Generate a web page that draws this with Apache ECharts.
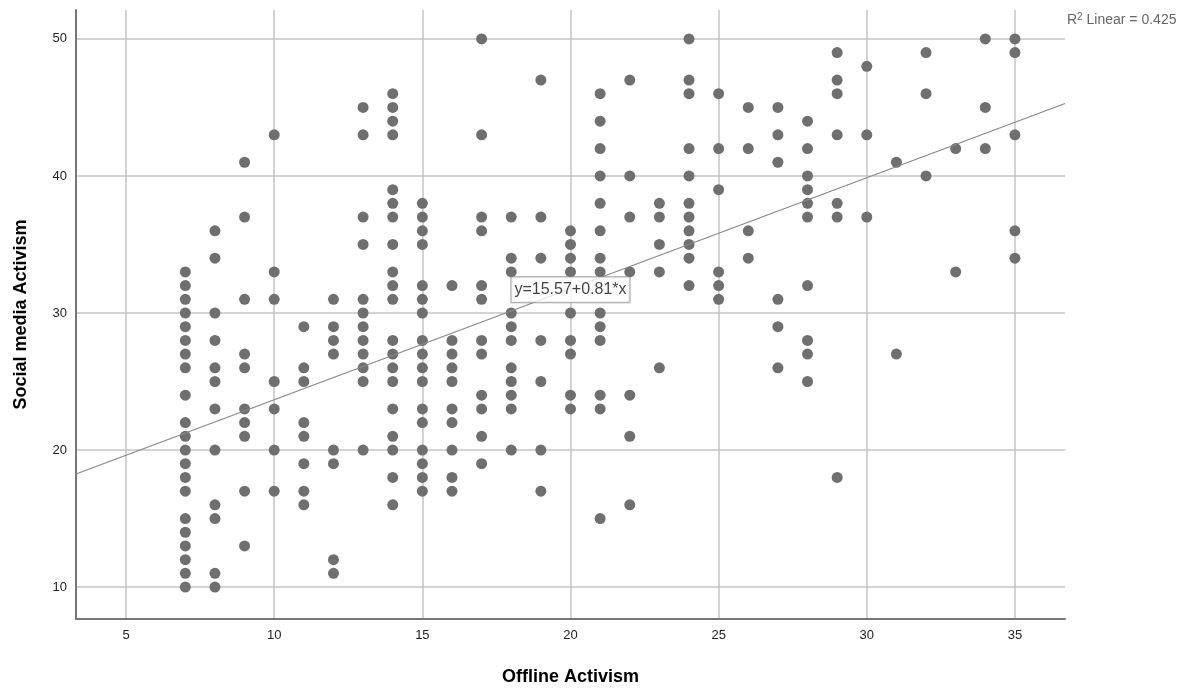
<!DOCTYPE html>
<html lang="en">

<head>
    <meta charset="UTF-8">
    <title>Offline vs Social media Activism</title>
    <style>
        html, body { margin: 0; padding: 0; background: #fff; }
        #main { width: 1195px; height: 691px; }
    </style>
</head>

<body>
    <div id="main"></div>
</body>
<script src="https://cdn.jsdelivr.net/npm/echarts@6.0.0/dist/echarts.min.js"></script>
<script>
    // social media score values, one list per offline activism score
    const offline = [7, 8, 9, 10, 11, 12, 13, 14, 15, 16, 17, 18, 19, 20, 21, 22, 23, 24, 25, 26, 27, 28, 29, 30, 31, 32, 33, 34, 35]
    const s7 = [33, 32, 31, 30, 29, 28, 27, 26, 24, 22, 21, 20, 19, 18, 17, 15, 14, 13, 12, 11, 10]
    const s8 = [36, 34, 30, 28, 26, 25, 23, 20, 16, 15, 11, 10]
    const s9 = [41, 37, 31, 27, 26, 23, 22, 21, 17, 13]
    const s10 = [43, 33, 31, 25, 23, 20, 17]
    const s11 = [29, 26, 25, 22, 21, 19, 17, 16]
    const s12 = [31, 29, 28, 27, 20, 19, 12, 11]
    const s13 = [45, 43, 37, 35, 31, 30, 29, 28, 27, 26, 25, 20]
    const s14 = [46, 45, 44, 43, 39, 38, 37, 35, 33, 32, 31, 28, 27, 26, 25, 23, 21, 20, 18, 16]
    const s15 = [38, 37, 36, 35, 32, 31, 30, 28, 27, 26, 25, 23, 22, 20, 19, 18, 17]
    const s16 = [32, 28, 27, 26, 25, 23, 22, 20, 18, 17]
    const s17 = [50, 43, 37, 36, 32, 31, 28, 27, 24, 23, 21, 19]
    const s18 = [37, 34, 33, 30, 29, 28, 26, 25, 24, 23, 20]
    const s19 = [47, 37, 34, 28, 25, 20, 17]
    const s20 = [36, 35, 34, 33, 30, 28, 27, 24, 23]
    const s21 = [46, 44, 42, 40, 38, 36, 34, 33, 30, 29, 28, 24, 23, 15]
    const s22 = [47, 40, 37, 33, 24, 21, 16]
    const s23 = [38, 37, 35, 33, 26]
    const s24 = [50, 47, 46, 42, 40, 38, 37, 36, 35, 34, 32]
    const s25 = [46, 42, 39, 33, 32, 31]
    const s26 = [45, 42, 36, 34]
    const s27 = [45, 43, 41, 31, 29, 26]
    const s28 = [44, 42, 40, 39, 38, 37, 32, 28, 27, 25]
    const s29 = [49, 47, 46, 43, 38, 37, 18]
    const s30 = [48, 43, 37]
    const s31 = [41, 27]
    const s32 = [49, 46, 40]
    const s33 = [42, 33]
    const s34 = [50, 45, 42]
    const s35 = [50, 49, 43, 36, 34]
    const social = [s7, s8, s9, s10, s11, s12, s13, s14, s15, s16, s17, s18, s19, s20, s21, s22, s23, s24, s25, s26, s27, s28, s29, s30, s31, s32, s33, s34, s35]

    // fit line as printed on the chart
    const intercept = 15.57
    const slope = 0.81
    const rSquared = '0.425'
    const xRange = [3.31, 36.69]
    const yRange = [7.67, 52.11]
    const labelAt = [20, 31.7]

    const points = []
    offline.forEach((x, i) => social[i].forEach(y => points.push([x, y])))
    const fit = xRange.map(x => [x, intercept + slope * x])

    const gridColor = '#c4c4c4'
    const font = 'Liberation Sans, Arial, sans-serif'

    echarts.init(document.getElementById('main')).setOption({
        animation: false,
        textStyle: { fontFamily: font },
        grid: { left: 76, right: 130, top: 10, bottom: 71 },
        xAxis: {
            type: 'value',
            min: xRange[0],
            max: xRange[1],
            name: 'Offline Activism',
            nameLocation: 'middle',
            nameGap: 49,
            nameTextStyle: { fontSize: 18, fontWeight: 'bold', color: '#000', fontFamily: font },
            axisLine: { show: true, lineStyle: { color: '#777', width: 2 } },
            axisTick: { show: false },
            axisLabel: { color: '#222', fontSize: 13, margin: 10, showMinLabel: false, showMaxLabel: false },
            splitLine: { show: true, showMinLine: false, showMaxLine: false, lineStyle: { color: gridColor, width: 1.5 } }
        },
        yAxis: {
            type: 'value',
            min: yRange[0],
            max: yRange[1],
            name: 'Social media Activism',
            nameLocation: 'middle',
            nameGap: 46,
            nameTextStyle: { fontSize: 18, fontWeight: 'bold', color: '#000', fontFamily: font },
            axisLine: { show: true, lineStyle: { color: '#777', width: 2 } },
            axisTick: { show: false },
            axisLabel: { color: '#222', fontSize: 13, margin: 9, showMinLabel: false, showMaxLabel: false },
            splitLine: { show: true, showMinLine: false, showMaxLine: false, lineStyle: { color: gridColor, width: 1.5 } }
        },
        graphic: [{
            type: 'text',
            left: 1067,
            top: 12,
            style: {
                text: 'R{sup|2} Linear = ' + rSquared,
                fill: '#666',
                font: '14px ' + font,
                rich: { sup: { fontSize: 10, verticalAlign: 'top', padding: [0, 0, 6, 0], fill: '#666' } }
            }
        }],
        series: [
            {
                type: 'line',
                data: fit,
                symbol: 'none',
                silent: true,
                lineStyle: { color: '#888', width: 1.2 },
                z: 3
            },
            {
                type: 'scatter',
                data: points,
                symbolSize: 11,
                itemStyle: { color: '#6f6f6f', opacity: 1 },
                z: 2
            },
            {
                type: 'scatter',
                data: [labelAt],
                symbolSize: 0,
                z: 5,
                label: {
                    show: true,
                    position: 'inside',
                    formatter: 'y=' + intercept + '+' + slope + '*x',
                    color: '#111',
                    fontSize: 16,
                    lineHeight: 18,
                    backgroundColor: '#fff',
                    borderColor: '#8a8a8a',
                    borderWidth: 1,
                    padding: [4, 3, 3, 3]
                }
            }
        ]
    });
</script>

</html>
